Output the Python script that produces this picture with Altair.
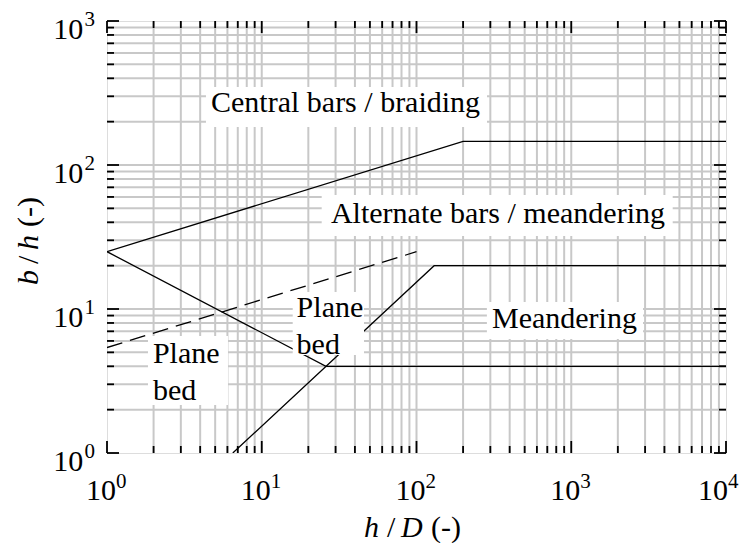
import altair as alt
import pandas as pd

# ---- data ----
central_x = [1, 200, 10000]
central_y = [25, 146, 146]
plane_x = [1, 26, 10000]
plane_y = [25, 4, 4]
alternate_x = [6.5, 130, 10000]
alternate_y = [1, 20, 20]
dash_x = [1, 100]
dash_y = [5.4, 25]

x_major = [1, 10, 100, 1000, 10000]
x_exp = ["0", "1", "2", "3", "4"]
y_major = [1, 10, 100, 1000]
y_exp = ["0", "1", "2", "3"]
x_minor = [m * d for d in [1, 10, 100, 1000] for m in range(2, 10)]
y_minor = [m * d for d in [1, 10, 100] for m in range(2, 10)]
x_grid = sorted(x_minor + x_major[1:-1])
y_grid = sorted(y_minor + y_major[1:-1])

# region labels (anchor in data units)
c_text = ["Central bars / braiding", "Alternate bars / meandering", "Meandering"]
c_x = [34.8, 336, 904]
c_y = [234.5, 39.8, 7.38]
l_text = ["Plane", "bed", "Plane", "bed"]
l_x = [1.98, 1.98, 16.8, 16.8]
l_y = [4.22, 2.335, 8.80, 4.87]
# white label boxes (data units)
box_x1 = [4.36, 24.4, 285, 1.84, 15.85]
box_x2 = [285.5, 4525, 2909, 6.05, 45.8]
box_y1 = [183.6, 32.1, 6.19, 2.154, 4.79]
box_y2 = [348.1, 61.9, 11.19, 6.49, 13.13]

# axis titles, split into italic / upright pieces
xt_text = ["h", "/", "D", "(-)"]
xt_italic = [True, False, True, False]
xt_pos = [257, 280, 294, 324]
yt_text = ["b", "/", "h", "(-)"]
yt_italic = [True, False, True, False]
yt_pos = [264, 243, 229, 206]

W, H = 619, 432
FONT = "Liberation Serif"
GRID = "#c8c8c8"

xs = alt.Scale(type="log", domain=[1, 10000], nice=False)
ys = alt.Scale(type="log", domain=[1, 1000], nice=False)


def X(field):
    return alt.X(field, scale=xs, axis=None)


def Y(field):
    return alt.Y(field, scale=ys, axis=None)


gx = alt.Chart(pd.DataFrame({"v": x_grid})).mark_rule(color=GRID, strokeWidth=2).encode(x=X("v:Q"))
gy = alt.Chart(pd.DataFrame({"v": y_grid})).mark_rule(color=GRID, strokeWidth=2).encode(y=Y("v:Q"))

lines_df = pd.concat([
    pd.DataFrame({"s": "central", "x": central_x, "y": central_y, "o": range(3)}),
    pd.DataFrame({"s": "plane", "x": plane_x, "y": plane_y, "o": range(3)}),
    pd.DataFrame({"s": "alternate", "x": alternate_x, "y": alternate_y, "o": range(3)}),
])
lines = alt.Chart(lines_df).mark_line(color="black", strokeWidth=1.3, clip=True).encode(
    x=X("x:Q"), y=Y("y:Q"), detail="s:N", order="o:Q",
)
dash = alt.Chart(pd.DataFrame({"x": dash_x, "y": dash_y})).mark_line(
    color="black", strokeWidth=1.3, strokeDash=[16, 8], clip=True
).encode(x=X("x:Q"), y=Y("y:Q"))

boxes = alt.Chart(pd.DataFrame({"x1": box_x1, "x2": box_x2, "y1": box_y1, "y2": box_y2})).mark_rect(
    fill="white", strokeWidth=0
).encode(x=X("x1:Q"), x2="x2:Q", y=Y("y1:Q"), y2="y2:Q")

ctext = alt.Chart(pd.DataFrame({"t": c_text, "x": c_x, "y": c_y})).mark_text(
    font=FONT, fontSize=30, align="center", baseline="alphabetic", color="black"
).encode(x=X("x:Q"), y=Y("y:Q"), text="t:N")
ltext = alt.Chart(pd.DataFrame({"t": l_text, "x": l_x, "y": l_y})).mark_text(
    font=FONT, fontSize=30, align="left", baseline="alphabetic", color="black"
).encode(x=X("x:Q"), y=Y("y:Q"), text="t:N")


def xticks(vals, length, top):
    return alt.Chart(pd.DataFrame({"v": vals})).mark_rule(color="black", strokeWidth=1.8).encode(
        x=X("v:Q"),
        y=alt.value(0 if top else H),
        y2=alt.value(length if top else H - length),
    )


def yticks(vals, length, right):
    return alt.Chart(pd.DataFrame({"v": vals})).mark_rule(color="black", strokeWidth=1.8).encode(
        y=Y("v:Q"),
        x=alt.value(W if right else 0),
        x2=alt.value(W - length if right else length),
    )


tick_layers = [
    xticks(x_major, 12, False), xticks(x_minor, 7, False),
    xticks(x_major, 12, True), xticks(x_minor, 7, True),
    yticks(y_major, 12, False), yticks(y_minor, 7, False),
    yticks(y_major, 12, True), yticks(y_minor, 7, True),
]

# tick labels: "10" with a raised exponent
label_layers = []
for i, (v, e) in enumerate(zip(x_major, x_exp)):
    shift = -7 if i == len(x_major) - 1 else 0
    d = pd.DataFrame({"v": [v], "e": [e]})
    label_layers.append(alt.Chart(d).mark_text(
        font=FONT, fontSize=30, align="center", baseline="alphabetic", color="black", dx=-6 + shift
    ).encode(x=X("v:Q"), y=alt.value(H + 47), text=alt.value("10")))
    label_layers.append(alt.Chart(d).mark_text(
        font=FONT, fontSize=21, align="left", baseline="alphabetic", color="black", dx=9 + shift
    ).encode(x=X("v:Q"), y=alt.value(H + 34.5), text="e:N"))

yd = pd.DataFrame({"v": y_major, "e": y_exp})
label_layers.append(alt.Chart(yd).mark_text(
    font=FONT, fontSize=30, align="right", baseline="alphabetic", color="black", dy=17.7
).encode(y=Y("v:Q"), x=alt.value(-23.7), text=alt.value("10")))
label_layers.append(alt.Chart(yd).mark_text(
    font=FONT, fontSize=21, align="right", baseline="alphabetic", color="black", dy=4.5
).encode(y=Y("v:Q"), x=alt.value(-12), text="e:N"))

# axis titles
title_layers = []
for italic in (True, False):
    xd = pd.DataFrame({"t": [t for t, it in zip(xt_text, xt_italic) if it == italic],
                       "p": [p for p, it in zip(xt_pos, xt_italic) if it == italic]})
    title_layers.append(alt.Chart(xd).mark_text(
        font=FONT, fontSize=30, fontStyle="italic" if italic else "normal",
        align="left", baseline="alphabetic", color="black"
    ).encode(x=alt.X("p:Q", scale=None, axis=None), y=alt.value(H + 84), text="t:N"))
    ydf = pd.DataFrame({"t": [t for t, it in zip(yt_text, yt_italic) if it == italic],
                        "p": [p for p, it in zip(yt_pos, yt_italic) if it == italic]})
    title_layers.append(alt.Chart(ydf).mark_text(
        font=FONT, fontSize=30, fontStyle="italic" if italic else "normal",
        align="left", baseline="alphabetic", color="black", angle=270
    ).encode(y=alt.Y("p:Q", scale=None, axis=None), x=alt.value(-69), text="t:N"))

chart = alt.layer(
    gx, gy, lines, dash, boxes, ctext, ltext, *tick_layers, *label_layers, *title_layers
).properties(
    width=W, height=H,
    padding={"left": 99, "top": 13, "right": 13, "bottom": 90},
    autosize=alt.AutoSizeParams(type="none"),
).configure_view(stroke="black", strokeWidth=2).configure(background="white")

chart.save("out.html", embed_options={"renderer": "svg", "actions": False})
